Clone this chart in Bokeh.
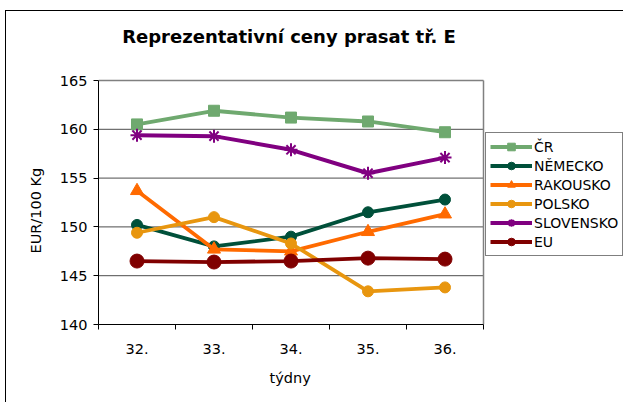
from bokeh.plotting import figure
from bokeh.models import FixedTicker, Range1d, Legend, LegendItem, Label, Title
from bokeh.embed import file_html
from bokeh.resources import INLINE

weeks = [32, 33, 34, 35, 36]
week_labels = ["32.", "33.", "34.", "35.", "36."]
y_ticks = [140, 145, 150, 155, 160, 165]
cr = [160.5, 161.9, 161.2, 160.8, 159.7]
nemecko = [150.2, 148.0, 149.0, 151.5, 152.8]
rakousko = [153.7, 147.7, 147.5, 149.5, 151.3]
polsko = [149.4, 151.0, 148.3, 143.4, 143.8]
slovensko = [159.4, 159.3, 157.9, 155.5, 157.1]
eu = [146.5, 146.4, 146.5, 146.8, 146.7]

FONT = "DejaVu Sans"

# plot-area geometry in pixels (frame is extended so legend and title fit inside it)
AREA_W, AREA_H = 385, 244
EXTRA_RIGHT, EXTRA_TOP = 141, 69

x_lo, x_hi = weeks[0] - 0.5, weeks[-1] + 0.5
y_lo, y_hi = y_ticks[0], y_ticks[-1]
xu = (x_hi - x_lo) / AREA_W
yu = (y_hi - y_lo) / AREA_H

p = figure(width=618, height=392, output_backend="svg", toolbar_location=None,
           x_range=Range1d(x_lo, x_hi + EXTRA_RIGHT * xu),
           y_range=Range1d(y_lo, y_hi + EXTRA_TOP * yu),
           min_border_left=92, min_border_right=0, min_border_top=0, min_border_bottom=79)
p.styles = {"border-left": "1px solid black", "border-top": "1px solid black",
            "margin-left": "5px", "margin-top": "10px"}

p.outline_line_color = None

# axes
p.xaxis.ticker = FixedTicker(ticks=weeks, minor_ticks=[w - 0.5 for w in weeks] + [x_hi])
p.xaxis.bounds = (x_lo, x_hi)
p.xaxis.major_label_overrides = {w: l for w, l in zip(weeks, week_labels)}
p.xaxis.major_tick_out = 0
p.xaxis.major_tick_in = 0
p.xaxis.minor_tick_out = 5
p.xaxis.minor_tick_in = 0
p.xaxis.major_label_standoff = 14

p.yaxis.ticker = FixedTicker(ticks=y_ticks, minor_ticks=[])
p.yaxis.bounds = (y_lo, y_hi)
p.yaxis.major_tick_out = 5
p.yaxis.major_tick_in = 0
p.yaxis.major_label_standoff = 6

for ax in (p.xaxis, p.yaxis):
    ax.axis_line_color = "black"
    ax.axis_line_width = 1
    ax.major_tick_line_color = "black"
    ax.minor_tick_line_color = "black"
    ax.major_label_text_font = FONT
    ax.major_label_text_font_size = "14.5px"
    ax.major_label_text_color = "black"

p.xgrid.grid_line_color = None
p.ygrid.grid_line_color = None

# axis titles centred on the plot area
xt = Title(text="týdny", align="left", offset=171, text_font=FONT, text_font_size="14.5px",
           text_font_style="normal", text_color="black", standoff=22)
p.add_layout(xt, "below")
yt = Title(text="EUR/100 Kg", align="left", offset=71, text_font=FONT, text_font_size="14.5px",
           text_font_style="normal", text_color="black", standoff=25)
p.add_layout(yt, "left")

# chart title
p.add_layout(Label(x=(x_lo + x_hi) / 2 - 2 * xu, y=y_hi + 44 * yu, text="Reprezentativní ceny prasat tř. E",
                   text_align="center", text_baseline="middle", text_font=FONT,
                   text_font_size="18px", text_font_style="bold", text_color="black"))

# grid lines and plot-area border limited to the category area
inner = y_ticks[1:-1]
p.segment(x0=[x_lo] * len(inner), x1=[x_hi] * len(inner), y0=inner, y1=inner,
          line_color="#4d4d4d", line_width=1)
p.segment(x0=[x_lo, x_hi], x1=[x_hi, x_hi], y0=[y_hi, y_lo], y1=[y_hi, y_hi],
          line_color="#808080", line_width=1.5)

series = [
    ("ČR", cr, "#6FA96F", "square", 11, 3.8),
    ("NĚMECKO", nemecko, "#00503A", "circle", 11, 3.8),
    ("RAKOUSKO", rakousko, "#FF6A00", "triangle", 13, 3.8),
    ("POLSKO", polsko, "#E8960F", "circle", 11, 3.8),
    ("SLOVENSKO", slovensko, "#800080", "asterisk", 13, 4),
    ("EU", eu, "#800000", "circle", 14, 3.8),
]

items = []
for name, vals, color, marker, size, lw in series:
    l = p.line(weeks, vals, line_color=color, line_width=lw)
    if marker == "asterisk":
        s = p.scatter(weeks, vals, marker=marker, size=size, line_color=color, line_width=2)
    else:
        s = p.scatter(weeks, vals, marker=marker, size=size, fill_color=color, line_color=color)
    items.append(LegendItem(label=name, renderers=[l, s]))

legend = Legend(items=items, location=(387, 68))
legend.label_text_font = FONT
legend.label_text_font_size = "14px"
legend.label_text_color = "black"
legend.glyph_width = 42
legend.glyph_height = 19
legend.label_height = 19
legend.label_standoff = 2
legend.spacing = 0
legend.padding = 4
legend.margin = 0
legend.border_line_color = "black"
legend.border_line_width = 1
legend.background_fill_alpha = 1
p.add_layout(legend, "center")

open("out.html", "w").write(file_html(p, INLINE))
